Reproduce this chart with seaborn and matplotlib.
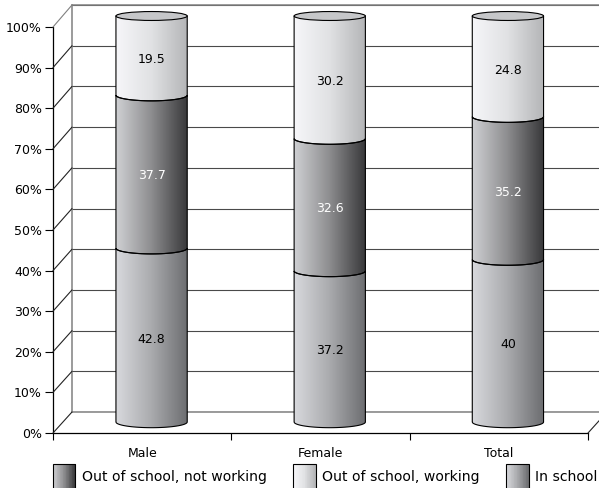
import numpy as np
import pandas as pd
import matplotlib
matplotlib.use("Agg")
import matplotlib.pyplot as plt
import seaborn as sns
from matplotlib.colors import LinearSegmentedColormap
from matplotlib.legend_handler import HandlerBase
from matplotlib.patches import ConnectionPatch, Ellipse, Patch, PathPatch, Rectangle
from matplotlib.path import Path
from matplotlib.ticker import PercentFormatter

categories = ["Male", "Female", "Total"]
in_school = [42.8, 37.2, 40]
not_working = [37.7, 32.6, 35.2]
working = [19.5, 30.2, 24.8]
y_ticks = [0, 10, 20, 30, 40, 50, 60, 70, 80, 90, 100]

W, H = 599, 488
sns.set_theme(style="white")
plt.rcParams["font.family"] = ["DejaVu Sans"]
plt.rcParams["font.size"] = 9


def axes_px(fig, left, right, top, bottom, **kw):
    return fig.add_axes([left / W, 1 - bottom / H, (right - left) / W, (bottom - top) / H], **kw)


def grad(c1, c2, c3):
    return LinearSegmentedColormap.from_list("g", [c1, c2, c3])


cmap_school = grad("#d8d9dd", "#a9aaad", "#6c6d70")
cmap_notwork = grad("#cfd0d3", "#8c8c8e", "#38383a")
cmap_work = grad("#f6f6f9", "#e0e1e3", "#b4b5b7")
strip = np.linspace(0, 1, 128).reshape(1, -1)

fig = plt.figure(figsize=(W / 100, H / 100), dpi=100)

# back wall
back = axes_px(fig, 72, 607, 5, 412)
back.set_xlim(0, 1)
back.set_ylim(0, 100)
back.set_xticks([])
back.set_yticks(y_ticks)
back.tick_params(left=False, labelleft=False)
back.grid(axis="y", color="#4a4a4a", lw=0.8)
for s in ["top", "right"]:
    back.spines[s].set_visible(False)
for s in ["left", "bottom"]:
    back.spines[s].set_color("#808080")
    back.spines[s].set_linewidth(1.1)
back.axhline(100, color="#808080", lw=1.1, clip_on=False)

# front plane with the real axis
front = axes_px(fig, 53, 588, 27, 433)
front.patch.set_alpha(0)
front.set_xlim(-0.5, 2.5)
front.set_ylim(0, 100)
front.set_yticks(y_ticks)
front.yaxis.set_major_formatter(PercentFormatter(100, decimals=0))
front.set_xticks([-0.5, 0.5, 1.5, 2.5])
front.set_xticks(range(len(categories)), minor=True)
front.set_xticklabels([], minor=False)
front.set_xticklabels(categories, minor=True)
front.tick_params(axis="x", which="major", length=5, width=0.8, color="black", bottom=True)
front.tick_params(axis="x", which="minor", length=0, pad=10, labelsize=9, colors="black")
front.tick_params(axis="y", length=5.8, width=0.8, color="black", left=True, pad=2.2, labelsize=9, labelcolor="black")
for s in ["top", "right"]:
    front.spines[s].set_visible(False)
for s in ["left", "bottom"]:
    front.spines[s].set_color("black")
    front.spines[s].set_linewidth(0.9)

# side wall and floor diagonals
for v in y_ticks:
    c = "#808080" if v == 100 else "#222222"
    fig.add_artist(ConnectionPatch((-0.5, v), (0, v), coordsA=front.transData, coordsB=back.transData,
                                   color=c, lw=0.8))
fig.add_artist(ConnectionPatch((1, 0), (1, 0), coordsA=front.transAxes, coordsB=back.transAxes,
                               color="#222222", lw=0.8))

# cylinders
ax = axes_px(fig, 62.5, 597, 16, 422)
ax.patch.set_alpha(0)
bottoms = np.zeros(len(categories))
segments = []
for vals, cmap, txt in [(in_school, cmap_school, "black"),
                        (not_working, cmap_notwork, "white"),
                        (working, cmap_work, "black")]:
    segments.append((np.array(vals, dtype=float), bottoms.copy(), cmap, txt))
    bottoms = bottoms + np.array(vals, dtype=float)

for vals, base, cmap, txt in reversed(segments):
    df = pd.DataFrame({"group": categories, "top": base + vals})
    before = len(ax.patches)
    sns.barplot(data=df, x="group", y="top", color="white", width=0.4, ax=ax)
    bars = ax.patches[before:]
    for bar, v, b in zip(bars, vals, base):
        bar.set_visible(False)
        x0, x1 = bar.get_x(), bar.get_x() + bar.get_width()
        t = np.linspace(0, np.pi, 40)
        xs = (x0 + x1) / 2 - np.cos(t) * (x1 - x0) / 2
        sag = np.sin(t) * 1.4
        low = np.c_[xs, b - sag]
        top_edge = np.c_[xs[::-1], (b + v - sag)[::-1]]
        if b + v >= 99.9:
            top_edge = np.c_[[x1, x0], [100, 100]]
        pts = np.r_[low, top_edge, low[:1]]
        path = Path(pts)
        im = ax.imshow(strip, cmap=cmap, aspect="auto", extent=(x0, x1, b - 2, b + v + 2), zorder=2)
        im.set_clip_box(fig.bbox)
        im.set_clip_path(PathPatch(path, transform=ax.transData))
        ax.add_patch(PathPatch(path, fc="none", ec="black", lw=0.8, zorder=3, clip_on=False))
        ax.text((x0 + x1) / 2, b + v / 2 - 1, f"{v:g}", ha="center", va="center", color=txt,
                fontsize=9, zorder=4)

for i in range(len(categories)):
    ax.add_patch(Ellipse((i, 100), 0.4, 2.2, fc="#c6c7c9", ec="black", lw=0.8, zorder=3, clip_on=False))

ax.set_xlim(-0.5, 2.5)
ax.set_ylim(0, 100)
ax.axis("off")


class HandlerGradient(HandlerBase):
    def __init__(self, cmap):
        super().__init__()
        self.cmap = cmap

    def create_artists(self, legend, orig_handle, xdescent, ydescent, width, height, fontsize, trans):
        n = 30
        y0 = -ydescent - 4
        h = height + 6
        out = []
        for i in range(n):
            out.append(Rectangle((-xdescent + width * i / n, y0), width / n + 0.3, h,
                                 fc=self.cmap(i / (n - 1)), ec="none", transform=trans))
        out.append(Rectangle((-xdescent, y0), width, h, fc="none", ec="black", lw=0.8,
                             transform=trans))
        return out


h1 = Patch(label="Out of school, not working")
h2 = Patch(label="Out of school, working")
h3 = Patch(label="In school")
fig.legend(handles=[h1, h2, h3], ncol=3, frameon=False, loc="lower left",
           bbox_to_anchor=(53 / W, 2 / H), borderaxespad=0, borderpad=0,
           handlelength=1.6, handleheight=1.7, handletextpad=0.45, columnspacing=1.9,
           fontsize=10.1, labelcolor="black",
           handler_map={h1: HandlerGradient(cmap_notwork), h2: HandlerGradient(cmap_work),
                        h3: HandlerGradient(cmap_school)})

fig.savefig("out.png", dpi=100)
